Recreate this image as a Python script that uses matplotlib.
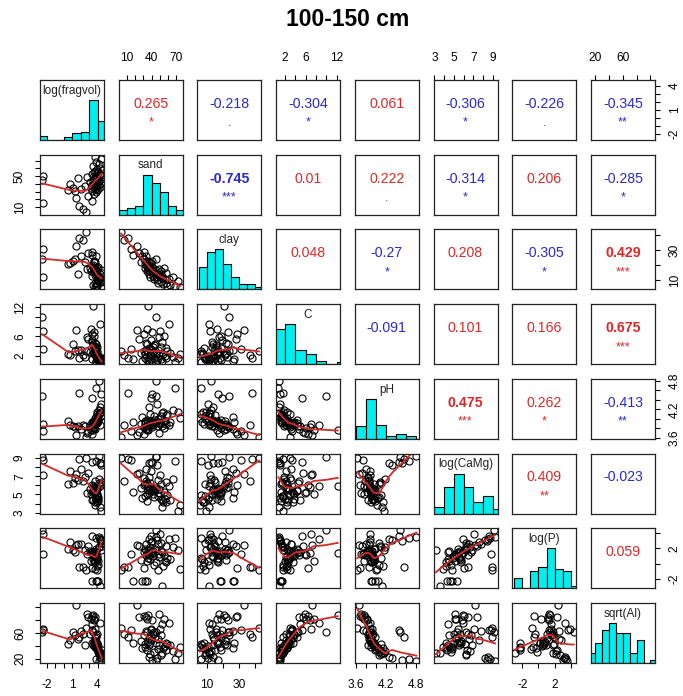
import numpy as np
import matplotlib
matplotlib.use("Agg")
import matplotlib.pyplot as plt

plt.rcParams['font.family'] = ['Liberation Sans', 'DejaVu Sans']

title = "100-150 cm"
var_names = ["log(fragvol)", "sand", "clay", "C", "pH", "log(CaMg)", "log(P)", "sqrt(Al)"]

log_fragvol = [2.6, 2.3, 1.8, -2.4, 3.3, 1.5, 2.9, 3.6, 3.8, 1.3,
               3.4, 0.5, 3.9, 2.1, 3.7, 4.1, 3.2, 1.1, 3.85, 3.5,
               4.3, 3.65, 2.5, 3.95, 4.2, 3.3, 3.75, 0.8, 3.55, 4.4,
               3.9, 3.1, 4.05, 3.45, 3.8, -2.5, 4.15, 3.6, 4.35, 1.7,
               3.98, 2.7, 3.7, -2.45, 3.85, 4.45, 3.4, 4.25, 3.95, 3.6,
               4.1, 3.75, 4.48, 3.9, 4.3, 3.5, 4.2, 3.8, 4.4, 3.65]
sand = [3, 7, 12, 15, 18, 22, 25, 27, 29, 30.5,
        31, 31.5, 32, 33, 33.5, 34, 34.5, 35, 35.5, 36,
        36.5, 37, 37.5, 38, 38.5, 39, 39.3, 39.7, 40.5, 41,
        41.5, 42, 43, 43.5, 44, 45, 45.5, 46, 47, 47.5,
        48, 49, 49.5, 50.5, 51, 52, 52.5, 53, 54, 55,
        56, 57, 58, 59, 61, 63, 66, 68, 72, 75]
clay = [42.5, 37, 38, 31, 27, 33, 28, 22, 26, 24,
        29, 21, 18, 26, 22, 19, 16, 23, 17, 20.5,
        14, 18.5, 22.5, 16.5, 12, 19.5, 15.5, 21.5, 23, 17,
        13, 18, 11, 15.8, 14, 24, 12.5, 16.8, 10.5, 14.5,
        8.5, 17.5, 13.5, 12, 16, 9, 13, 11.5, 7.5, 18.5,
        10.8, 8, 15.2, 6.5, 11, 7, 12.2, 6, 9.5, 5.5]
carbon = [3.0, 2.2, 1.6, 3.3, 1.2, 7.3, 5.5, 2.6, 0.9, 2.9,
          6.4, 2.4, 1.4, 3.1, 4.6, 1.1, 7.6, 4.4, 2.7, 12.2,
          0.8, 3.6, 1.7, 2.3, 1.3, 5.2, 3.4, 2.1, 6.9, 0.95,
          3.8, 2.8, 1.5, 4.2, 4.3, 9.9, 0.75, 2.5, 1.0, 3.2,
          1.6, 5.8, 2.2, 7.1, 3.7, 1.2, 4.9, 0.85, 2.4, 6.1,
          1.9, 3.5, 1.4, 2.9, 8.6, 2.6, 1.7, 0.7, 1.5, 2.3]
ph = [3.62, 3.86, 4.55, 3.74, 3.92, 3.65, 3.72, 3.88, 4.03, 3.83,
      3.68, 3.95, 3.90, 3.79, 3.78, 3.97, 3.76, 3.85, 3.93, 3.75,
      4.25, 3.89, 3.84, 3.96, 4.10, 4.45, 3.91, 3.87, 3.82, 4.52,
      3.94, 3.86, 4.06, 3.90, 3.98, 4.48, 4.80, 3.92, 4.32, 3.85,
      3.99, 3.70, 3.93, 3.88, 3.91, 4.05, 3.84, 4.12, 4.14, 3.81,
      3.96, 3.89, 4.08, 4.09, 3.87, 3.94, 4.18, 4.66, 4.15, 4.02]
log_camg = [8.95, 6.5, 8.9, 8.8, 5.3, 7.2, 7.4, 5.7, 4.6, 6.8,
            6.05, 6.1, 4.85, 7.8, 6.45, 4.3, 5.1, 6.3, 5.5, 5.9,
            8.5, 5.2, 6.9, 5.6, 6.25, 8.6, 5.4, 7.6, 5.8, 8.4,
            5.05, 5.65, 4.7, 5.35, 5.45, 9.1, 9.25, 5.75, 8.2, 6.6,
            4.8, 5.15, 5.55, 7.1, 4.55, 6.2, 4.35, 3.6, 4.2, 5.25,
            4.5, 4.15, 6.4, 4.9, 5.95, 4.4, 6.7, 8.7, 3.15, 3.85]
log_p = [-0.8, -0.4, -0.5, 1.3, -2.3, 2.45, 2.3, 0.5, -2.3, 1.6,
         -0.6, 1.9, -2.3, 2.6, 1.2, -2.3, 0.3, 1.75, 0.8, 1.45,
         3.3, 1.1, 1.85, 0.6, 2.15, 3.7, 1.55, 2.8, 1.35, 3.05,
         1.05, 1.65, -0.2, 1.4, 1.95, 4.4, 3.5, 0.2, 3.15, 2.55,
         -0.9, 1.25, 0.9, 3.9, 1.7, 2.7, 1.5, -2.98, -0.3, 1.15,
         0.4, 0.15, 2.35, 0.7, 3.25, 0.55, 2.2, 3.4, 1.8, -0.7]
sqrt_al = [67, 58, 54, 65, 45, 103, 84, 48, 36, 57,
           86, 43, 38, 63, 85, 33, 82, 61, 46, 87,
           22, 52, 41, 44, 27, 64, 66, 49, 79.5, 18,
           59, 58, 31, 62, 53, 62, 17, 45, 21, 50.5,
           35, 89, 42, 66, 57, 26, 74, 29, 37, 81,
           39, 44, 34, 43, 76, 40.5, 32, 19, 29.5, 38]

data = [log_fragvol, sand, clay, carbon, ph, log_camg, log_p, sqrt_al]

# upper-panel correlation labels (row-major upper triangle)
corr_r = ["0.265", "-0.218", "-0.304", "0.061", "-0.306", "-0.226", "-0.345",
          "-0.745", "0.01", "0.222", "-0.314", "0.206", "-0.285",
          "0.048", "-0.27", "0.208", "-0.305", "0.429",
          "-0.091", "0.101", "0.166", "0.675",
          "0.475", "0.262", "-0.413",
          "0.409", "-0.023",
          "0.059"]
corr_sig = ["*", ".", "*", "", "*", ".", "**",
            "***", "", ".", "*", "", "*",
            "", "*", "", "*", "***",
            "", "", "", "***",
            "***", "*", "**",
            "**", "",
            ""]

tick_pos = [[-2, -1, 0, 1, 2, 3, 4], [10, 20, 30, 40, 50, 60, 70], [10, 20, 30, 40],
            [2, 4, 6, 8, 10, 12], [3.6, 3.8, 4.0, 4.2, 4.4, 4.6, 4.8], [3, 4, 5, 6, 7, 8, 9],
            [-2, 0, 2, 4], [20, 40, 60, 80, 100]]
xlab_pos = [[-2, 1, 4], [10, 40, 70], [10, 30], [2, 6, 12], [3.6, 4.2, 4.8],
            [3, 5, 7, 9], [-2, 2], [20, 60]]
ylab_pos = [[-2, 1, 4], [10, 50], [10, 30], [2, 6, 12], [3.6, 4.2, 4.8],
            [3, 5, 7, 9], [-2, 2], [20, 60]]
hist_step = [1, 10, 5, 2, 0.2, 1, 1, 10]

# ---- helpers ----
def lowess(x, y, f=2/3, iters=3):
    x = np.asarray(x, float); y = np.asarray(y, float)
    o = np.argsort(x, kind="mergesort")
    xs, ys = x[o], y[o]
    n = len(xs)
    ns = max(min(int(f * n + 1e-7), n), 2)
    rw = np.ones(n)
    fit = np.zeros(n)
    for it in range(iters + 1):
        for i in range(n):
            d = np.abs(xs - xs[i])
            h = max(np.sort(d)[ns - 1], 1e-12)
            u = d / h
            w = np.where(u < 0.999, (1 - u ** 3) ** 3, 0.0)
            w[u <= 0.001] = 1.0
            w = w * rw
            sw = w.sum()
            if sw <= 0:
                fit[i] = ys[i]
                continue
            xm = (w * xs).sum() / sw
            ym = (w * ys).sum() / sw
            b = (w * (xs - xm) ** 2).sum()
            slope = (w * (xs - xm) * (ys - ym)).sum() / b if b > 1e-12 else 0.0
            fit[i] = ym + slope * (xs[i] - xm)
        if it == iters:
            break
        res = ys - fit
        m = np.median(np.abs(res))
        if m <= 0:
            break
        uu = res / (6 * m)
        rw = np.where(np.abs(uu) < 1, (1 - uu ** 2) ** 2, 0.0)
    return xs, fit

def usr_range(v):
    v = np.asarray(v, float)
    lo, hi = v.min(), v.max()
    r = hi - lo
    return lo - 0.04 * r, hi + 0.04 * r

def fmt(v):
    return ("%g" % v)

W, H = 683, 696
fig = plt.figure(figsize=(W / 100, H / 100), dpi=100)
fig.patch.set_facecolor("white")

nv = len(data)
col_left = [40 + j * 78.7 for j in range(nv)]
row_top = [80 + i * 74.7 for i in range(nv)]
pw, ph_ = 64, 60
usr = [usr_range(v) for v in data]

red = "#e02828"
blue = "#2a2ad0"
tick_len = 5 / 1.389
lab_size = 8.6

def do_ticks(ax, axis, side, k):
    pos = tick_pos[k]
    labs = xlab_pos[k] if axis == "x" else ylab_pos[k]
    txt = [fmt(v) if any(abs(v - l) < 1e-9 for l in labs) else "" for v in pos]
    if axis == "x":
        ax.set_xticks(pos)
        ax.set_xticklabels(txt)
        ax.tick_params(axis="x", which="both", direction="out", length=tick_len, width=0.8,
                       top=(side == "top"), bottom=(side == "bottom"),
                       labeltop=(side == "top"), labelbottom=(side == "bottom"),
                       labelsize=lab_size, pad=8)
    else:
        ax.set_yticks(pos)
        ax.set_yticklabels(txt)
        ax.tick_params(axis="y", which="both", direction="out", length=tick_len, width=0.8,
                       left=(side == "left"), right=(side == "right"),
                       labelleft=(side == "left"), labelright=(side == "right"),
                       labelsize=lab_size, pad=6.5)
        for lab in ax.get_yticklabels():
            lab.set_rotation(90)
            lab.set_va("center")
            lab.set_ha("right" if side == "left" else "left")

k = 0
upper_idx = {}
for i in range(nv):
    for j in range(i + 1, nv):
        upper_idx[(i, j)] = k
        k += 1

for i in range(nv):
    for j in range(nv):
        ax = fig.add_axes([col_left[j] / W, 1 - (row_top[i] + ph_) / H, pw / W, ph_ / H])
        for s in ax.spines.values():
            s.set_linewidth(0.9)
            s.set_color("#222222")
        ax.set_xticks([]); ax.set_yticks([])
        ax.set_xlim(*usr[j])
        if i == j:
            v = np.asarray(data[i], float)
            st = hist_step[i]
            lo = np.floor(v.min() / st + 1e-9) * st
            hi = np.ceil(v.max() / st - 1e-9) * st
            edges = np.round(np.arange(lo, hi + st / 2, st), 6)
            counts = []
            for b in range(len(edges) - 1):
                c = ((v > edges[b]) & (v <= edges[b + 1])).sum()
                if b == 0:
                    c += (v == edges[0]).sum()
                counts.append(c)
            counts = np.array(counts, float)
            ax.bar(edges[:-1], counts / counts.max(), width=st, align="edge",
                   color="#00eeee", edgecolor="black", linewidth=0.8)
            ax.set_ylim(0, 1.5)
            ax.text(0.5, 0.77, var_names[i], transform=ax.transAxes, ha="center",
                    va="baseline", fontsize=8.5, color="#222222")
        elif i > j:
            ax.set_ylim(*usr[i])
            ax.plot(data[j], data[i], "o", mfc="none", mec="black", ms=5.1, mew=0.8)
            xs, fy = lowess(data[j], data[i])
            ax.plot(xs, fy, color="#d52a2a", lw=1.3)
        else:
            ax.set_ylim(*usr[i])
            idx = upper_idx[(i, j)]
            r = corr_r[idx]
            sig = corr_sig[idx]
            col = blue if r.startswith("-") else red
            bold = sig == "***"
            ax.text(0.5, 0.535, r, transform=ax.transAxes, ha="center", va="baseline",
                    fontsize=10.2, color=col, fontweight="bold" if bold else "normal")
            if sig:
                ax.text(0.5, 0.235, sig, transform=ax.transAxes, ha="center", va="baseline",
                        fontsize=9, color=col)
        # outer axes, alternating as in R pairs()
        if i == 0 and j % 2 == 1:
            do_ticks(ax, "x", "top", j)
        if i == nv - 1 and j % 2 == 0:
            do_ticks(ax, "x", "bottom", j)
        if j == 0 and i % 2 == 1:
            do_ticks(ax, "y", "left", i)
        if j == nv - 1 and i % 2 == 0:
            do_ticks(ax, "y", "right", i)

fig.text(0.509, 1 - 19 / H, title, ha="center", va="center", fontsize=16.5, fontweight="bold")

fig.savefig("out.png", dpi=100)
